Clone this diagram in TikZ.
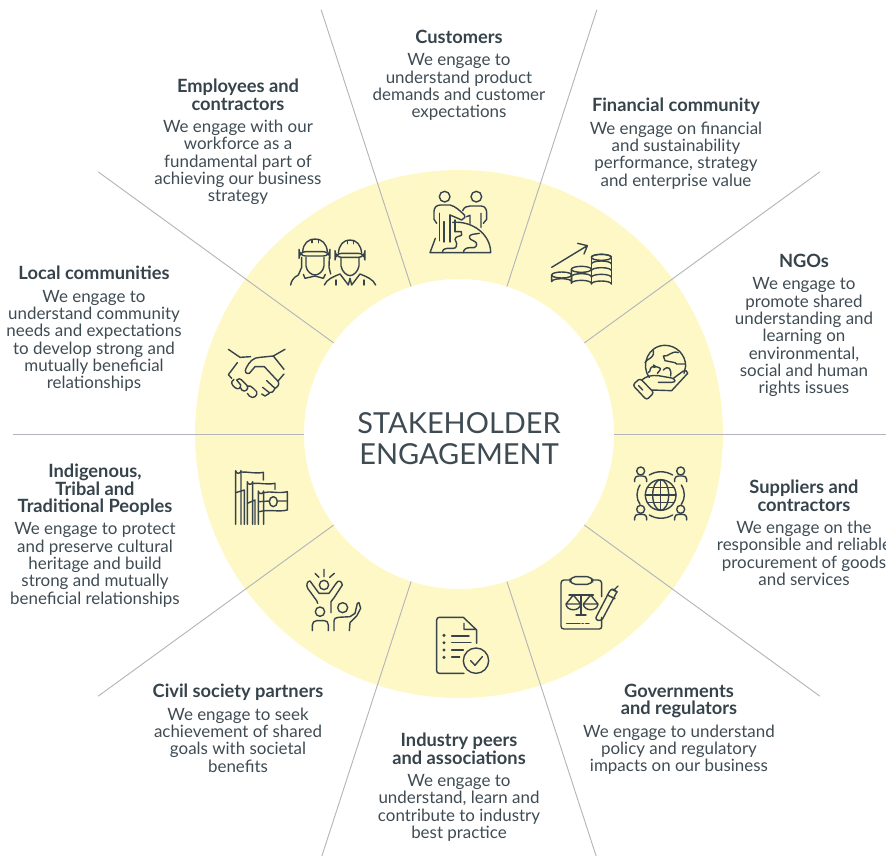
\documentclass[tikz,border=0pt]{standalone}
\usepackage{fontspec}
\setmainfont{Lato}
\definecolor{ringc}{HTML}{FEF8C6}
\definecolor{spoke}{HTML}{B3B5BB}
\definecolor{ink}{HTML}{36434B}
\definecolor{txt}{HTML}{3F4B53}
\newcommand{\hd}[1]{{\fontsize{13.7pt}{13pt}\selectfont\bfseries\color{ink}#1}}
\tikzset{
 lbl/.style={anchor=north,inner sep=0pt,align=center,text=txt,font=\fontsize{12.7pt}{13pt}\selectfont},
 spokeline/.style={draw=spoke,line width=.7pt},
 ic/.style={draw=ink,line width=1.05pt,line cap=round,line join=round},
 dotf/.style={fill=ink,draw=none}
}
\begin{document}
\begin{tikzpicture}[x=.75pt,y=-.75pt]
\useasboundingbox (0,0) rectangle (886,856);
\clip (0,0) rectangle (886,856);
\coordinate (c) at (459,434);
\fill[ringc,even odd rule] (c) circle[radius=264] (c) circle[radius=155];
\foreach \a in {0,36,...,324}{
  \coordinate (in\a) at ([shift={(\a:155)}]c);
  \coordinate (out\a) at ([shift={(\a:446)}]c);
  \draw[spokeline] (in\a) -- (out\a);
}
% centre title
\node[anchor=center,inner sep=0pt,align=center,text=txt,font=\fontsize{21.7pt}{23.3pt}\selectfont] (title) at (459,439) {STAKEHOLDER\\ENGAGEMENT};
% labels
\node[lbl] (customers) at (459,30) {\hd{Customers}\\[3.7pt]We engage to\\understand product\\demands and customer\\expectations};
\node[lbl] (employees) at (238,79) {\hd{Employees and}\\\hd{contractors}\\[3.7pt]We engage with our\\workforce as a\\fundamental part of\\achieving our business\\strategy};
\node[lbl] (financial) at (676,98) {\hd{Financial community}\\[3.7pt]We engage on financial\\and sustainability\\performance, strategy\\and enterprise value};
\node[lbl] (ngos) at (804,254) {\hd{NGOs}\\[3.7pt]We engage to\\promote shared\\understanding and\\learning on\\environmental,\\social and human\\rights issues};
\node[lbl] (local) at (94,266) {\hd{Local communities}\\[3.7pt]We engage to\\understand community\\needs and expectations\\to develop strong and\\mutually beneficial\\relationships};
\node[lbl] (indigenous) at (95,464) {\hd{Indigenous,}\\\hd{Tribal and}\\\hd{Traditional Peoples}\\[3.7pt]We engage to protect\\and preserve cultural\\heritage and build\\strong and mutually\\beneficial relationships};
\node[lbl] (suppliers) at (804,480) {\hd{Suppliers and}\\\hd{contractors}\\[3.7pt]We engage on the\\responsible and reliable\\procurement of goods\\and services};
\node[lbl] (civil) at (238,684) {\hd{Civil society partners}\\[3.7pt]We engage to seek\\achievement of shared\\goals with societal\\benefits};
\node[lbl] (gov) at (679,684) {\hd{Governments}\\\hd{and regulators}\\[3.7pt]We engage to understand\\policy and regulatory\\impacts on our business};
\node[lbl] (industry) at (459,733) {\hd{Industry peers}\\\hd{and associations}\\[3.7pt]We engage to\\understand, learn and\\contribute to industry\\best practice};
% customers icon
\begin{scope}[shift={(280,180)},x=.25pt,y=-.25pt]
\draw[ic] (494,50) circle[radius=16] (589,50) circle[radius=16];
\draw[ic] (470,130) -- (462,118) -- (462,95) .. controls (462,82) and (470,75) .. (482,75) -- (510,75) .. controls (525,78) and (540,92) .. (553,105) -- (555,112) -- (545,120) -- (522,110) -- (510,105);
\draw[ic] (478,100) -- (478,182) (492,125) -- (492,186) (510,105) -- (510,186) (525,120) -- (525,155);
\draw[ic] (548,92) .. controls (552,82) and (560,78) .. (570,78) -- (603,78) .. controls (615,78) and (620,88) .. (620,98) -- (620,118) -- (610,130);
\draw[ic] (603,100) -- (603,142) (560,110) -- (570,106) -- (570,130);
\draw[ic] (518,127) .. controls (580,122) and (632,165) .. (632,218) -- (450,218) -- (466,175);
\draw[ic] (487,218) .. controls (488,208) and (494,205) .. (502,205) -- (520,205) .. controls (530,205) and (530,195) .. (530,190) -- (525,178) .. controls (526,168) and (540,170) .. (545,165) -- (544,155) -- (525,155);
\draw[ic] (550,218) .. controls (551,208) and (558,203) .. (570,203) -- (582,203) .. controls (592,200) and (592,188) .. (585,185) -- (572,178) .. controls (565,172) and (568,165) .. (578,163) -- (598,160);
\end{scope}
% helmets icon
\begin{scope}[shift={(280,180)},x=.25pt,y=-.25pt]
\draw[ic] (68,215) .. controls (70,190) and (85,177) .. (105,177) .. controls (125,177) and (140,190) .. (142,215);
\draw[ic,rounded corners=5pt] (57,215) -- (150,215) -- (150,228) -- (57,228) -- cycle;
\draw[ic] (92,215) -- (118,215) (96,178) -- (96,188) (115,178) -- (115,188);
\draw[ic] (78,232) -- (78,258) .. controls (80,275) and (95,285) .. (105,285) .. controls (115,285) and (130,275) .. (132,258) -- (132,232);
\draw[ic] (65,232) -- (65,262) -- (55,285) .. controls (40,292) and (33,305) .. (32,315);
\draw[ic] (70,283) -- (75,295) -- (105,288) -- (130,295) -- (136,283);
\draw[ic] (148,232) -- (147,262) -- (152,282);
\draw[ic] (175,220) .. controls (177,195) and (190,180) .. (210,180) .. controls (230,180) and (243,195) .. (245,220);
\draw[ic,rounded corners=5pt] (165,220) -- (255,220) -- (255,232) -- (165,232) -- cycle;
\draw[ic] (197,220) -- (223,220) (202,181) -- (202,191) (220,181) -- (220,191);
\draw[ic] (183,235) -- (183,258) .. controls (186,275) and (200,287) .. (210,287) .. controls (220,287) and (234,275) .. (237,258) -- (237,235);
\draw[ic] (133,315) .. controls (140,298) and (160,290) .. (180,282) -- (205,315) -- (210,295) -- (215,315) -- (240,282) .. controls (260,290) and (280,298) .. (287,315);
\draw[ic] (168,300) -- (168,315) (252,300) -- (252,315);
\end{scope}
% coins icon
\begin{scope}[shift={(280,180)},x=.25pt,y=-.25pt]
\draw[ic] (815,262) -- (922,197) (893,190) -- (922,197) -- (912,222);
\foreach \yy in {232,252,272,292}{
 \draw[ic] (934,\yy) -- (934,\yy+20) (994,\yy) -- (994,\yy+20);
}
\foreach \yy in {232,252,272,292}{\draw[ic] (934,\yy) arc[start angle=180,end angle=360,x radius=30,y radius=9];}
\draw[ic] (964,232) ellipse[x radius=30,y radius=9];
\draw[ic] (934,312) arc[start angle=180,end angle=360,x radius=30,y radius=9];
\draw[ic] (904,268) ellipse[x radius=30,y radius=9];
\draw[ic] (874,268) -- (874,310) (874,290) arc[start angle=180,end angle=360,x radius=30,y radius=9] (874,310) arc[start angle=180,end angle=360,x radius=30,y radius=9];
\draw[ic] (845,285) ellipse[x radius=30,y radius=9];
\draw[ic] (815,285) -- (815,305) (875,285) -- (875,305) (815,305) arc[start angle=180,end angle=360,x radius=30,y radius=9];
\end{scope}
% handshake / flags
\begin{scope}[shift={(210,340)},x=.25pt,y=-.25pt]
\draw[ic] (55,28) -- (90,52) -- (122,50);
\draw[ic] (225,28) -- (190,48) -- (150,52) .. controls (130,52) and (118,65) .. (108,85) .. controls (103,95) and (108,103) .. (118,100) -- (135,80) -- (163,80);
\draw[ic] (190,48) -- (222,88) (222,102) -- (205,122);
\draw[ic] (82,68) -- (55,104) -- (65,115);
\draw[ic] (163,80) -- (205,125) .. controls (210,135) and (200,143) .. (195,145) -- (170,122);
\draw[ic] (195,145) .. controls (190,155) and (185,160) .. (178,158) -- (158,142) (178,160) -- (165,168) -- (155,162);
\draw[ic] (72,118) .. controls (60,125) and (65,135) .. (75,143) .. controls (85,150) and (92,145) .. (92,135) -- (80,120) .. controls (85,115) and (92,115) .. (95,120) -- (110,135) .. controls (120,145) and (105,160) .. (95,150) -- (92,143);
\draw[ic] (112,138) .. controls (118,135) and (125,140) .. (130,145) -- (140,155) .. controls (145,165) and (130,180) .. (118,168) -- (112,160);
\draw[ic] (77,553) -- (77,392) arc[start angle=180,end angle=0,radius=8] (93,392) -- (93,553);
\draw[ic] (93,396) .. controls (115,395) and (135,402) .. (160,397) -- (160,420);
\draw[ic] (77,458) -- (103,450) -- (103,553);
\draw[ic] (112,553) -- (112,425) arc[start angle=180,end angle=0,radius=8] (128,425) -- (128,553);
\draw[ic] (128,430) .. controls (150,428) and (170,435) .. (195,430) -- (195,448);
\draw[ic] (112,490) -- (135,480) -- (135,553);
\draw[ic] (145,553) -- (145,453) arc[start angle=180,end angle=0,radius=8] (161,453) -- (161,553);
\draw[ic] (161,458) .. controls (180,452) and (205,462) .. (232,455) -- (232,510) .. controls (205,517) and (180,507) .. (147,515);
\draw[ic] (147,485) -- (178,483) (203,483) -- (232,483);
\draw[ic] (190,485) ellipse[x radius=12,y radius=15];
\end{scope}
% document / scales
\begin{scope}[shift={(420,560)},x=.25pt,y=-.25pt]
\draw[ic] (130,172) -- (58,172) .. controls (53,172) and (50,175) .. (50,180) -- (50,332) .. controls (50,337) and (53,340) .. (58,340) -- (132,340);
\draw[ic] (130,172) -- (170,210) -- (170,250) (132,190) -- (132,208) -- (168,208);
\foreach \yy in {226,248,270,292}{\fill[dotf] (72,\yy) circle[radius=5];}
\draw[ic] (95,228) -- (147,228) (95,248) -- (153,248) (95,270) -- (130,270) (95,291) -- (119,291);
\draw[ic] (168,302) circle[radius=38];
\draw[ic] (152,302) -- (165,316) -- (187,290);
\draw[ic] (450,60) -- (432,60) .. controls (426,60) and (423,64) .. (423,70) -- (423,198) .. controls (423,204) and (426,207) .. (432,207) -- (538,207) .. controls (542,207) and (545,204) .. (545,200) -- (545,172);
\draw[ic] (518,60) -- (535,60) .. controls (541,60) and (545,64) .. (545,70) -- (545,110);
\draw[ic,rounded corners=4pt] (450,50) -- (518,50) -- (518,73) -- (450,73) -- cycle;
\draw[ic] (447,105) -- (520,105) (483,105) -- (483,165) (468,165) -- (498,165);
\draw[ic] (460,105) -- (438,132) -- (482,132) -- cycle (438,132) .. controls (440,155) and (480,155) .. (482,132);
\draw[ic] (512,105) -- (490,132) -- (534,132) -- cycle (490,132) .. controls (492,155) and (532,155) .. (534,132);
\draw[ic] (440,190) -- (480,190) (486,190) -- (490,190) (497,190) -- (507,190);
\draw[ic] (528,172) -- (568,95) .. controls (573,85) and (585,85) .. (590,97) -- (548,176) .. controls (542,185) and (525,182) .. (528,172);
\draw[ic] (562,105) -- (585,116) (582,90) -- (594,78) (575,88) -- (592,96);
\end{scope}
% hand globe
\begin{scope}[shift={(620,340)},x=.25pt,y=-.25pt]
\draw[ic] (88,112) .. controls (60,75) and (85,16) .. (135,16) .. controls (170,16) and (197,45) .. (197,78) -- (192,100);
\draw[ic] (100,32) .. controls (105,48) and (90,55) .. (82,60) -- (75,68) (105,82) .. controls (85,75) and (95,95) .. (85,98) (112,100) .. controls (125,85) and (125,85) .. (108,80) -- (100,75);
\draw[ic] (130,48) .. controls (145,52) and (155,30) .. (175,38) (130,48) -- (135,62) -- (165,68) -- (170,72) -- (196,72);
\draw[ic] (130,90) .. controls (145,75) and (155,85) .. (152,108);
\draw[ic,rounded corners=2pt] (38,135) -- (60,115) -- (102,158) -- (80,180) -- cycle;
\draw[ic] (56,137) -- (68,150);
\draw[ic] (65,120) .. controls (80,108) and (95,105) .. (115,107) -- (155,114) .. controls (168,118) and (168,127) .. (155,127) -- (115,127);
\draw[ic] (95,150) -- (155,152) -- (203,100) .. controls (204,92) and (195,90) .. (190,93) -- (160,115);
\end{scope}
% people globe
\begin{scope}[shift={(620,360)},x=.25pt,y=-.25pt]
\draw[ic] (122,405) circle[radius=46];
\draw[ic] (122,405) ellipse[x radius=24,y radius=46];
\draw[ic] (122,359) -- (122,451) (76,405) -- (168,405) (82,383) -- (162,383) (82,427) -- (162,427);
\foreach \xx/\yy in {62/333,182/333,62/448,182/448}{
 \draw[ic] (\xx,\yy) circle[radius=12];
 \draw[ic] (\xx-18,\yy+32) -- (\xx-18,\yy+25) .. controls (\xx-18,\yy+18) and (\xx-12,\yy+15) .. (\xx-6,\yy+15) -- (\xx+6,\yy+15) .. controls (\xx+12,\yy+15) and (\xx+18,\yy+18) .. (\xx+18,\yy+25) -- (\xx+18,\yy+32);
}
\draw[ic] (88,345) .. controls (110,332) and (135,332) .. (158,345);
\draw[ic] (88,465) .. controls (110,478) and (135,478) .. (158,465);
\draw[ic] (60,375) .. controls (48,395) and (48,415) .. (60,433);
\draw[ic] (184,375) .. controls (196,395) and (196,415) .. (184,433);
\end{scope}
% celebrate
\begin{scope}[shift={(295,560)},x=.25pt,y=-.25pt]
\draw[ic] (87,75) circle[radius=14] (75,155) circle[radius=14] (143,143) circle[radius=15];
\draw[ic] (87,28) -- (87,50) (60,40) -- (72,52) (118,40) -- (104,52);
\draw[ic] (68,130) -- (65,122) -- (38,85) .. controls (32,75) and (38,62) .. (45,63) -- (72,100) -- (102,100) -- (125,68) .. controls (130,60) and (140,62) .. (142,75) -- (118,112) -- (108,125) -- (108,158);
\draw[ic] (52,212) -- (52,195) .. controls (52,187) and (58,182) .. (65,182) -- (88,182) .. controls (95,182) and (100,187) .. (100,195) -- (100,212);
\draw[ic] (117,212) -- (117,185) .. controls (117,175) and (123,172) .. (130,172) -- (165,170) -- (180,160) -- (187,130) -- (192,128) -- (197,145) -- (185,168) -- (165,188) -- (163,212);
\end{scope}
\end{tikzpicture}
\end{document}
